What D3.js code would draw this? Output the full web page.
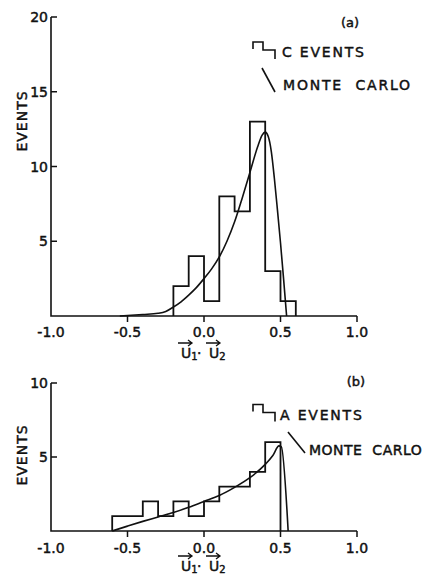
<!DOCTYPE html>
<html>
<head>
<meta charset="utf-8">
<script src="https://cdn.jsdelivr.net/npm/d3@7"></script>
<style>
  html, body { margin: 0; padding: 0; background: #fff; }
  svg { display: block; }
  text { font-family: "DejaVu Sans", sans-serif; fill: #111; stroke: #111; stroke-width: 0.45px; }
</style>
</head>
<body>
<svg id="fig" width="424" height="577"></svg>
<script>
// ---- data -------------------------------------------------------------
// Panel (a): C events, bins of width 0.1 starting at -0.2
const cBinStart = -0.2;
const cCounts = [2, 4, 1, 8, 7, 13, 3, 1];
// Panel (a): Monte Carlo prediction
const cMcX = [-0.55, -0.5, -0.4, -0.3, -0.25, -0.2, -0.15, -0.1, -0.05, 0.0, 0.05, 0.1, 0.15, 0.2, 0.25, 0.3, 0.35, 0.38, 0.40, 0.42, 0.44, 0.46, 0.48, 0.50, 0.52, 0.54];
const cMcY = [0, 0.03, 0.1, 0.18, 0.3, 0.6, 0.95, 1.4, 1.9, 2.5, 3.15, 3.95, 5.0, 6.3, 7.9, 9.6, 11.3, 12.1, 12.3, 12.0, 11.0, 9.2, 7.1, 4.9, 2.5, 0];

// Panel (b): A events, bins of width 0.1 starting at -0.6
const aBinStart = -0.6;
const aCounts = [1, 1, 2, 1, 2, 1, 2, 3, 3, 4, 6];
// Panel (b): Monte Carlo prediction
const aMcX = [-0.6, -0.5, -0.4, -0.3, -0.2, -0.1, 0.0, 0.1, 0.2, 0.3, 0.4, 0.45, 0.49, 0.505, 0.55];
const aMcY = [0, 0.33, 0.65, 0.95, 1.25, 1.6, 2.0, 2.4, 2.95, 3.6, 4.5, 5.1, 5.75, 5.7, 0];

const binWidth = 0.1;
const xTicks = [-1.0, -0.5, 0.0, 0.5, 1.0];
const yTicksA = [5, 10, 15, 20];
const yTicksB = [5, 10];

// ---- layout -----------------------------------------------------------
const svg = d3.select("#fig");
const ink = "#111";

const x = d3.scaleLinear().domain([-1, 1]).range([51, 357]);

const panels = [
  { y: d3.scaleLinear().domain([0, 20]).range([316, 17]), ticks: yTicksA,
    binStart: cBinStart, counts: cCounts, mcX: cMcX, mcY: cMcY,
    tag: "(a)", tagPos: [350, 27], kind: "C EVENTS",
    glyph: [253, 42], kindPos: [282, 57],
    slash: [[262, 68], [275, 92]], mcPos: [283, 90], mcSpacing: 1.8,
    evY: 121, tickLabY: 337, axLabY: 358 },
  { y: d3.scaleLinear().domain([0, 10]).range([531, 383]), ticks: yTicksB,
    binStart: aBinStart, counts: aCounts, mcX: aMcX, mcY: aMcY,
    tag: "(b)", tagPos: [356, 386], kind: "A EVENTS",
    glyph: [253, 404.5], kindPos: [280, 419.5],
    slash: [[288, 432], [305, 453]], mcPos: [309, 455], mcSpacing: 0.5,
    evY: 455, tickLabY: 553, axLabY: 571 }
];

panels.forEach(p => {
  const g = svg.append("g");
  const y = p.y;
  const y0 = y(0), yTop = y.range()[1];

  // axes lines
  g.append("path")
    .attr("d", `M${x(-1)},${yTop}V${y0}H${x(1)}`)
    .attr("fill", "none").attr("stroke", ink).attr("stroke-width", 1.6);

  // y ticks pointing into the plot
  p.ticks.forEach(t => {
    g.append("line").attr("x1", x(-1)).attr("x2", x(-1) + 6)
      .attr("y1", y(t)).attr("y2", y(t))
      .attr("stroke", ink).attr("stroke-width", 1.5);
    g.append("text").attr("x", x(-1) - 3).attr("y", y(t) + 5)
      .attr("text-anchor", "end").attr("font-size", 14).text(t);
  });

  // x ticks below the axis
  xTicks.forEach(t => {
    if (t > -1) {
      g.append("line").attr("x1", x(t)).attr("x2", x(t))
        .attr("y1", y0).attr("y2", y0 + 6)
        .attr("stroke", ink).attr("stroke-width", 1.5);
    }
    g.append("text").attr("x", x(t)).attr("y", p.tickLabY)
      .attr("text-anchor", "middle").attr("font-size", 14)
      .text(t.toFixed(1));
  });

  // y axis title
  g.append("text")
    .attr("transform", `translate(27,${p.evY}) rotate(-90)`)
    .attr("text-anchor", "middle").attr("font-size", 14)
    .attr("letter-spacing", 1).text("EVENTS");

  // x axis title: u1 . u2 with vector arrows
  const cx = x(0);
  const lab = g.append("text").attr("y", p.axLabY).attr("font-size", 14);
  lab.append("tspan").attr("x", cx - 23).text("U");
  lab.append("tspan").attr("dy", 2).attr("font-size", 10).text("1");
  lab.append("tspan").attr("x", cx - 7).attr("dy", -2).text("·");
  lab.append("tspan").attr("x", cx + 5).text("U");
  lab.append("tspan").attr("dy", 2).attr("font-size", 10).text("2");
  [[cx - 26, cx - 12], [cx + 2, cx + 16]].forEach(([a, b]) => {
    const ay = p.axLabY - 15;
    g.append("path")
      .attr("d", `M${a},${ay}H${b}M${b - 4},${ay - 3}L${b},${ay}L${b - 4},${ay + 3}`)
      .attr("fill", "none").attr("stroke", ink).attr("stroke-width", 1.3);
  });

  // histogram as a step outline
  const pts = [[p.binStart, 0]];
  p.counts.forEach((c, i) => pts.push([p.binStart + i * binWidth, c]));
  pts.push([p.binStart + p.counts.length * binWidth, 0]);
  const step = d3.line().x(d => x(d[0])).y(d => y(d[1])).curve(d3.curveStepAfter);
  g.append("path").attr("d", step(pts))
    .attr("fill", "none").attr("stroke", ink).attr("stroke-width", 1.8)
    .attr("stroke-linejoin", "miter");

  // Monte Carlo curve
  const mc = d3.line().x(d => x(d[0])).y(d => y(d[1])).curve(d3.curveMonotoneX);
  g.append("path").attr("d", mc(p.mcX.map((v, i) => [v, p.mcY[i]])))
    .attr("fill", "none").attr("stroke", ink).attr("stroke-width", 1.6);

  // panel tag and legend
  g.append("text").attr("x", p.tagPos[0]).attr("y", p.tagPos[1])
    .attr("text-anchor", "middle").attr("font-size", 13).text(p.tag);

  const [gx, gy] = p.glyph;
  g.append("path")
    .attr("d", `M${gx},${gy + 7}V${gy}H${gx + 10}V${gy + 8}H${gx + 22}V${gy + 17}`)
    .attr("fill", "none").attr("stroke", ink).attr("stroke-width", 1.6);
  g.append("text").attr("x", p.kindPos[0]).attr("y", p.kindPos[1])
    .attr("font-size", 14).attr("letter-spacing", 1.8).text(p.kind);

  g.append("line")
    .attr("x1", p.slash[0][0]).attr("y1", p.slash[0][1])
    .attr("x2", p.slash[1][0]).attr("y2", p.slash[1][1])
    .attr("stroke", ink).attr("stroke-width", 1.6);
  g.append("text").attr("x", p.mcPos[0]).attr("y", p.mcPos[1])
    .attr("font-size", 14).attr("letter-spacing", p.mcSpacing)
    .attr("xml:space", "preserve").style("white-space", "pre")
    .text("MONTE  CARLO");
});
</script>
</body>
</html>
